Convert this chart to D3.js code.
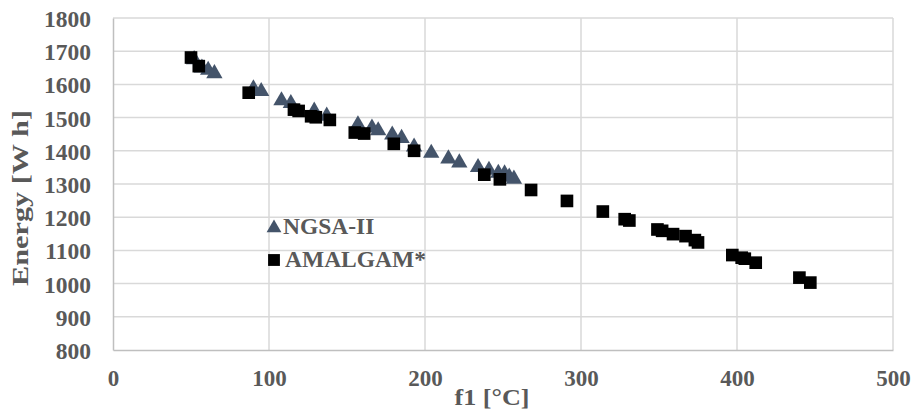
<!DOCTYPE html>
<html>
<head>
<meta charset="utf-8">
<script src="https://cdn.jsdelivr.net/npm/d3@7"></script>
<style>
  body { margin: 0; background: #fff; }
  text { font-family: "Liberation Serif", "Times New Roman", serif; font-weight: bold; fill: #595959; }
</style>
</head>
<body>
<div id="chart"></div>
<script>
// NGSA-II front: [f1, energy]
var ngsaF1 = [52, 57, 61, 65, 90, 95, 108, 114, 129, 137, 157, 166, 170, 179, 185, 193, 204, 215, 222, 234, 241, 247, 251, 254, 257];
var ngsaEnergy = [1675, 1650, 1643, 1633, 1587, 1579, 1551, 1543, 1520, 1505, 1479, 1469, 1461, 1448, 1438, 1412, 1393, 1376, 1364, 1350, 1342, 1333, 1331, 1321, 1315];

// AMALGAM* front
var amalF1 = [50, 55, 87, 116, 119, 127, 130, 139, 155, 161, 180, 193, 238, 248, 268, 291, 314, 328, 331, 349, 352, 359, 367, 373, 375, 397, 403, 405, 412, 440, 447];
var amalEnergy = [1681, 1655, 1575, 1524, 1520, 1504, 1501, 1493, 1455, 1452, 1421, 1400, 1328, 1314, 1282, 1249, 1217, 1194, 1190, 1163, 1159, 1149, 1143, 1131, 1124, 1086, 1078, 1075, 1063, 1018, 1003];

var xTicks = [0, 100, 200, 300, 400, 500];
var yTicks = [800, 900, 1000, 1100, 1200, 1300, 1400, 1500, 1600, 1700, 1800];

var width = 913,
  height = 414;
var margin = { left: 113, right: 20, top: 18, bottom: 64 };

var svg = d3
  .select("#chart")
  .append("svg")
  .attr("width", width)
  .attr("height", height);

var x = d3.scaleLinear().domain([0, 500]).range([margin.left, width - margin.right]);
var y = d3.scaleLinear().domain([800, 1800]).range([height - margin.bottom, margin.top]);

// grid
svg
  .append("g")
  .selectAll("line.h")
  .data(yTicks.slice(1))
  .join("line")
  .attr("x1", x(0))
  .attr("x2", x(500))
  .attr("y1", (d) => y(d))
  .attr("y2", (d) => y(d))
  .attr("stroke", "#d9d9d9")
  .attr("stroke-width", 1.5);

svg
  .append("g")
  .selectAll("line.v")
  .data(xTicks.slice(1))
  .join("line")
  .attr("x1", (d) => x(d))
  .attr("x2", (d) => x(d))
  .attr("y1", y(800))
  .attr("y2", y(1800))
  .attr("stroke", "#d9d9d9")
  .attr("stroke-width", 1.5);

// axes
var yAxis = d3.axisLeft(y).tickValues(yTicks).tickFormat(d3.format("d")).tickSize(0).tickPadding(22);
var gy = svg.append("g").attr("transform", "translate(" + x(0) + ",0)").call(yAxis);
gy.select(".domain").attr("stroke", "#bfbfbf").attr("stroke-width", 1.5);
gy.selectAll("text").attr("font-size", 23.5).attr("fill", "#595959").attr("dy", "0.36em")
  .style("font-family", "Liberation Serif").style("font-weight", "bold");

var xAxis = d3.axisBottom(x).tickValues(xTicks).tickFormat(d3.format("d")).tickSize(0).tickPadding(20);
var gx = svg.append("g").attr("transform", "translate(0," + y(800) + ")").call(xAxis);
gx.select(".domain").attr("stroke", "#bfbfbf").attr("stroke-width", 1.5);
gx.selectAll("text").attr("font-size", 23).attr("fill", "#595959")
  .style("font-family", "Liberation Serif").style("font-weight", "bold");

// axis titles
svg
  .append("text")
  .attr("x", 492)
  .attr("y", 405)
  .attr("text-anchor", "middle")
  .attr("font-size", 23.5)
  .attr("textLength", 75)
  .attr("lengthAdjust", "spacingAndGlyphs")
  .text("f1 [°C]");

svg
  .append("text")
  .attr("transform", "translate(28,198) rotate(-90)")
  .attr("text-anchor", "middle")
  .attr("font-size", 23.5)
  .attr("textLength", 176)
  .attr("lengthAdjust", "spacingAndGlyphs")
  .text("Energy [W h]");

var ngsa = ngsaF1.map((d, i) => [d, ngsaEnergy[i]]);
var amal = amalF1.map((d, i) => [d, amalEnergy[i]]);

var tri = d3.symbol().type(d3.symbolTriangle).size(115);
var sq = d3.symbol().type(d3.symbolSquare).size(160);

svg
  .append("g")
  .selectAll("path")
  .data(ngsa)
  .join("path")
  .attr("d", tri)
  .attr("transform", (d) => "translate(" + x(d[0]) + "," + y(d[1]) + ")")
  .attr("fill", "#44546a");

svg
  .append("g")
  .selectAll("path")
  .data(amal)
  .join("path")
  .attr("d", sq)
  .attr("transform", (d) => "translate(" + x(d[0]) + "," + y(d[1]) + ")")
  .attr("fill", "#000");

// legend
var legend = svg.append("g");
legend.append("path").attr("d", d3.symbol().type(d3.symbolTriangle).size(95)).attr("transform", "translate(274,228)").attr("fill", "#44546a");
legend.append("text").attr("x", 283).attr("y", 234).attr("font-size", 23.5).text("NGSA-II");
legend.append("path").attr("d", d3.symbol().type(d3.symbolSquare).size(140)).attr("transform", "translate(274,260)").attr("fill", "#000");
legend.append("text").attr("x", 285).attr("y", 267).attr("font-size", 23.5).text("AMALGAM*");
</script>
</body>
</html>
